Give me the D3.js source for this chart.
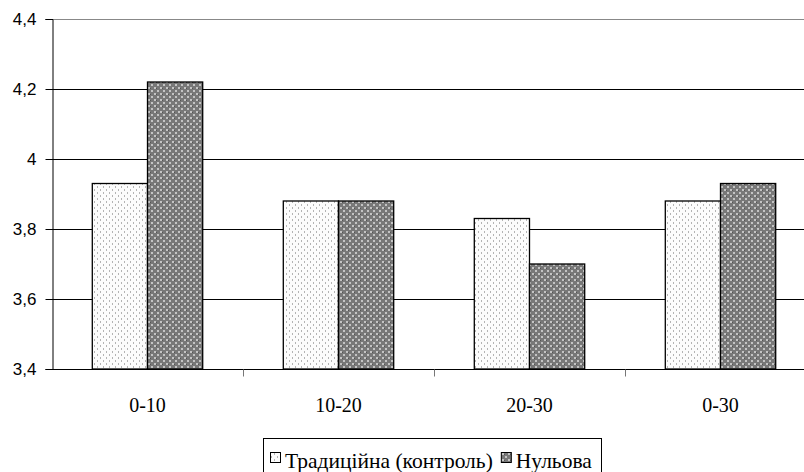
<!DOCTYPE html>
<html><head><meta charset="utf-8">
<script src="https://cdn.jsdelivr.net/npm/d3@7"></script>
<style>body{margin:0;background:#fff}svg{display:block}</style>
</head><body><svg id="c" width="804" height="472"></svg>
<script>
const categories = ["0-10", "10-20", "20-30", "0-30"];
const seriesNames = ["Традиційна (контроль)", "Нульова"];
const traditional = [3.93, 3.88, 3.83, 3.88];
const zeroTill = [4.22, 3.88, 3.70, 3.93];
const yTicks = [3.4, 3.6, 3.8, 4.0, 4.2, 4.4];
const yTickLabels = ["3,4", "3,6", "3,8", "4", "4,2", "4,4"];

(function () {
const SERIF = '"Liberation Serif"';
const SANS = '"Liberation Sans"';
const svg = d3.select("#c");
const defs = svg.append("defs");
// light dotted pattern
const p1 = defs.append("pattern").attr("id","pTrad").attr("patternUnits","userSpaceOnUse").attr("width",6).attr("height",6);
p1.append("rect").attr("width",6).attr("height",6).attr("fill","#fcfcfc");
p1.append("rect").attr("x",1).attr("y",0).attr("width",1).attr("height",2).attr("fill","#b4b4b4");
p1.append("rect").attr("x",4).attr("y",3).attr("width",1).attr("height",2).attr("fill","#b4b4b4");
// dark pattern
const p2 = defs.append("pattern").attr("id","pZero").attr("patternUnits","userSpaceOnUse").attr("width",6).attr("height",6);
p2.append("rect").attr("width",6).attr("height",6).attr("fill","#787878");
p2.append("rect").attr("x",1).attr("y",0).attr("width",2).attr("height",2).attr("fill","#c4c4c4");
p2.append("rect").attr("x",4).attr("y",3).attr("width",2).attr("height",2).attr("fill","#c4c4c4");
p2.append("rect").attr("x",0).attr("y",4).attr("width",1).attr("height",1).attr("fill","#555");

const mLeft = 52, mTop = 19, mBottom = 369, catW = 191;
const x = d3.scaleBand().domain(categories).range([mLeft, mLeft + catW * categories.length]).paddingInner(0).paddingOuter(0);
const y = d3.scaleLinear().domain([3.4, 4.4]).range([mBottom, mTop]);
const inner = d3.scaleBand().domain([0,1]).range([0, x.bandwidth()]).paddingOuter(0.73).paddingInner(0);

// gridlines
svg.append("g").selectAll("line").data(yTicks.slice(1)).join("line")
  .attr("x1", mLeft).attr("x2", 804)
  .attr("y1", d => Math.round(y(d)) + 0.5).attr("y2", d => Math.round(y(d)) + 0.5)
  .attr("stroke", (d,i) => i === yTicks.length - 2 ? "#888" : "#000").attr("stroke-width", 1);

// bars
const data = [traditional, zeroTill];
const fills = ["url(#pTrad)", "url(#pZero)"];
data.forEach((vals, s) => {
  svg.append("g").selectAll("rect").data(vals).join("rect")
    .attr("x", (d,i) => x(categories[i]) + inner(s))
    .attr("y", d => y(d))
    .attr("width", inner.bandwidth())
    .attr("height", d => mBottom - y(d))
    .attr("fill", fills[s]).attr("stroke", "#000").attr("stroke-width", 1.3);
});

// y axis
const yAxis = d3.axisLeft(y).tickValues(yTicks).tickFormat((d,i) => yTickLabels[i]).tickSize(7).tickPadding(9);
const ya = svg.append("g").attr("transform", `translate(${mLeft + 0.5},0)`).call(yAxis);
ya.select(".domain").attr("stroke", "#000");
ya.selectAll(".tick line").attr("stroke", "#000");
ya.selectAll("text").style("font-family", SANS).style("font-size", "17px").attr("fill", "#000");

// x axis
const xa = svg.append("g").attr("transform", `translate(0,${mBottom + 0.5})`);
xa.append("line").attr("x1", mLeft).attr("x2", 804).attr("stroke", "#000").attr("stroke-width", 1.2);
xa.selectAll("line.t").data(categories.slice(1)).join("line").attr("class","t")
  .attr("x1", d => x(d) + 0.5).attr("x2", d => x(d) + 0.5).attr("y1", 0).attr("y2", 7).attr("stroke", "#777");
xa.selectAll("text").data(categories).join("text")
  .attr("x", d => x(d) + x.bandwidth() / 2).attr("y", 42)
  .attr("text-anchor", "middle")
  .style("font-family", SERIF).style("font-size", "20px").attr("fill", "#000").text(d => d);

// legend
const lg = svg.append("g");
lg.append("rect").attr("x", 263.5).attr("y", 438.5).attr("width", 338).attr("height", 40).attr("fill", "#fff").attr("stroke", "#000");
let cx = 270;
seriesNames.forEach((name, i) => {
  lg.append("rect").attr("x", cx + 0.5).attr("y", 452.5).attr("width", 10).attr("height", 10).attr("fill", fills[i]).attr("stroke", "#000");
  const t = lg.append("text").attr("x", cx + 15).attr("y", 468)
    .style("font-family", SERIF).style("font-size", "21.5px").attr("fill", "#000").text(name);
  cx = cx + 15 + t.node().getComputedTextLength() + 8;
});
})();
</script></body></html>
